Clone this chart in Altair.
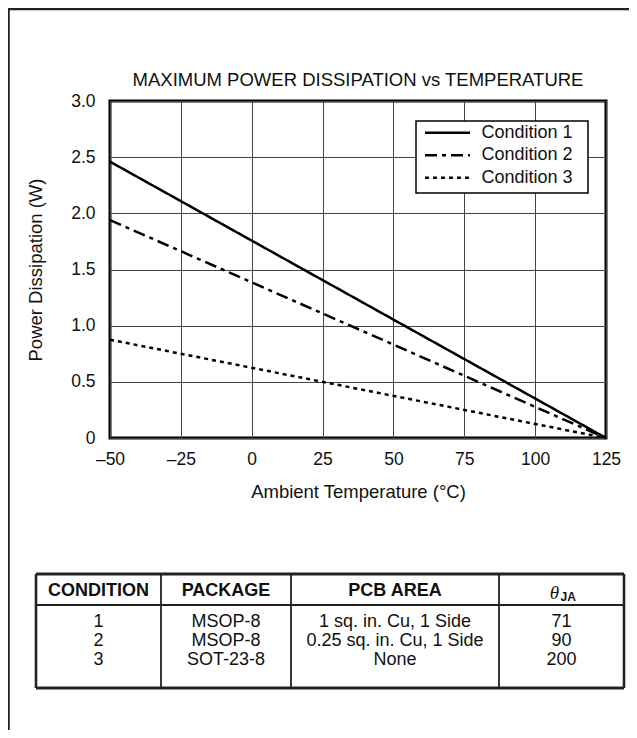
import altair as alt
import pandas as pd

# ---------------- data ----------------
temps = [-50, 125]
conditions = ["Condition 1", "Condition 2", "Condition 3"]
power_c1 = [2.46, 0.0]
power_c2 = [1.94, 0.0]
power_c3 = [0.875, 0.0]

x_ticks = [-50, -25, 0, 25, 50, 75, 100, 125]
y_ticks = [0, 0.5, 1.0, 1.5, 2.0, 2.5, 3.0]

chart_title = "MAXIMUM POWER DISSIPATION vs TEMPERATURE"
x_title = "Ambient Temperature (°C)"
y_title = "Power Dissipation (W)"

tbl_headers = ["CONDITION", "PACKAGE", "PCB AREA"]
tbl_condition = ["1", "2", "3"]
tbl_package = ["MSOP-8", "MSOP-8", "SOT-23-8"]
tbl_area = ["1 sq. in. Cu, 1 Side", "0.25 sq. in. Cu, 1 Side", "None"]
tbl_theta = ["71", "90", "200"]
theta_symbol = "θ"
theta_sub = "JA"

# ---------------- layout ----------------
W, H = 496, 337
FONT = "Liberation Sans"
INK = "#111111"

# legend geometry (plot pixel coords)
leg_box = (306, 478, 20, 92)
leg_sym = (315, 360)
leg_txt_x = 371.5
leg_rows = [31.7, 54.2, 76.7]

# table geometry (plot pixel coords)
col_edges = [-74, 51, 181, 389, 514]
tbl_top, head_bot, tbl_bot = 473, 504, 587
head_y = 489.5
body_y = [520.5, 539.5, 558.5]

# ---------------- frames ----------------
series = {"Condition 1": power_c1, "Condition 2": power_c2, "Condition 3": power_c3}
rows = []
for c in conditions:
    for t, p in zip(temps, series[c]):
        rows.append({"condition": c, "temp": t, "power": p})
lines_df = pd.DataFrame(rows)

dash_scale = alt.Scale(domain=conditions, range=[[1, 0], [12, 5, 4, 5], [4, 4]])

x_axis = alt.Axis(
    values=x_ticks, title=x_title, grid=True, gridColor="#444", gridWidth=1,
    ticks=False, domain=False, labelFontSize=17.5, labelColor=INK, labelPadding=12,
    labelFlush=False, labelOverlap=False,
    labelExpr="datum.value < 0 ? '\u2013' + abs(datum.value) : datum.label",
    titleFontSize=18.5, titleFontWeight="normal", titleColor=INK, titlePadding=15,
)
y_axis = alt.Axis(
    values=y_ticks, title=y_title, grid=True, gridColor="#444", gridWidth=1,
    ticks=False, domain=False, labelFontSize=17.5, labelColor=INK, labelPadding=15,
    labelFlush=False, labelOverlap=False,
    labelExpr="datum.value == 0 ? '0' : format(datum.value, '.1f')",
    titleFontSize=18.5, titleFontWeight="normal", titleColor=INK, titlePadding=25,
)

lines = alt.Chart(lines_df).mark_line(strokeWidth=2.5, color="black", clip=False).encode(
    x=alt.X("temp:Q", scale=alt.Scale(domain=[-50, 125], nice=False, zero=False), axis=x_axis),
    y=alt.Y("power:Q", scale=alt.Scale(domain=[0, 3], nice=False), axis=y_axis),
    strokeDash=alt.StrokeDash("condition:N", scale=dash_scale, legend=None),
)

one = pd.DataFrame({"k": [0]})

title_mark = alt.Chart(one).mark_text(
    text=chart_title, font=FONT, fontSize=18.5, color=INK, align="center", baseline="alphabetic"
).encode(x=alt.value(W / 2), y=alt.value(-15))

frame_left = alt.Chart(one).mark_rule(color="#222", strokeWidth=2.5).encode(
    x=alt.value(-101.5), y=alt.value(-92), y2=alt.value(H + 320)
)
frame_top = alt.Chart(one).mark_rule(color="#222", strokeWidth=2.5).encode(
    x=alt.value(-102.5), x2=alt.value(W + 60), y=alt.value(-92)
)

# legend
leg_df = pd.DataFrame({
    "condition": conditions,
    "x1": [leg_sym[0]] * 3, "x2": [leg_sym[1]] * 3,
    "tx": [leg_txt_x] * 3, "y": leg_rows,
})
leg_rect = alt.Chart(one).mark_rect(fill="white", stroke="black", strokeWidth=1.5).encode(
    x=alt.value(leg_box[0]), x2=alt.value(leg_box[1]), y=alt.value(leg_box[2]), y2=alt.value(leg_box[3])
)
leg_lines = alt.Chart(leg_df).mark_rule(strokeWidth=2.5, color="black").encode(
    x=alt.X("x1:Q", scale=None, axis=None), x2="x2:Q",
    y=alt.Y("y:Q", scale=None, axis=None),
    strokeDash=alt.StrokeDash("condition:N", scale=dash_scale, legend=None),
)
leg_text = alt.Chart(leg_df).mark_text(
    font=FONT, fontSize=18, color=INK, align="left", baseline="middle"
).encode(
    x=alt.X("tx:Q", scale=None, axis=None), y=alt.Y("y:Q", scale=None, axis=None), text="condition:N"
)

# table lines
tl = []
for y, w in [(tbl_top, 2.8), (head_bot, 2.2), (tbl_bot, 2.8)]:
    tl.append({"x1": col_edges[0], "x2": col_edges[-1], "y1": y, "y2": y, "w": w})
for i, x in enumerate(col_edges):
    w = 2.6 if i in (0, len(col_edges) - 1) else 1.8
    tl.append({"x1": x, "x2": x, "y1": tbl_top, "y2": tbl_bot, "w": w})
tl_df = pd.DataFrame(tl)
tbl_lines = alt.Chart(tl_df).mark_rule(color="#222").encode(
    x=alt.X("x1:Q", scale=None, axis=None), x2="x2:Q",
    y=alt.Y("y1:Q", scale=None, axis=None), y2="y2:Q",
    strokeWidth=alt.StrokeWidth("w:Q", scale=None, legend=None),
)

centers = [(col_edges[i] + col_edges[i + 1]) / 2 for i in range(len(col_edges) - 1)]
head_df = pd.DataFrame({"t": tbl_headers, "x": centers[:3], "y": [head_y] * 3})
tbl_head = alt.Chart(head_df).mark_text(
    font=FONT, fontSize=18, fontWeight="bold", color=INK, align="center", baseline="middle"
).encode(x=alt.X("x:Q", scale=None, axis=None), y=alt.Y("y:Q", scale=None, axis=None), text="t:N")

theta_df = pd.DataFrame({"t": [theta_symbol], "x": [centers[3] - 7], "y": [head_y + 2]})
theta_mark = alt.Chart(theta_df).mark_text(
    font="Liberation Serif", fontSize=19, fontStyle="italic", color=INK, align="center", baseline="middle"
).encode(x=alt.X("x:Q", scale=None, axis=None), y=alt.Y("y:Q", scale=None, axis=None), text="t:N")
sub_df = pd.DataFrame({"t": [theta_sub], "x": [centers[3] - 1], "y": [head_y + 6]})
sub_mark = alt.Chart(sub_df).mark_text(
    font=FONT, fontSize=12, fontWeight="bold", color=INK, align="left", baseline="middle"
).encode(x=alt.X("x:Q", scale=None, axis=None), y=alt.Y("y:Q", scale=None, axis=None), text="t:N")

body = []
for r in range(3):
    for c, col in enumerate([tbl_condition, tbl_package, tbl_area, tbl_theta]):
        body.append({"t": col[r], "x": centers[c], "y": body_y[r]})
body_df = pd.DataFrame(body)
tbl_body = alt.Chart(body_df).mark_text(
    font=FONT, fontSize=18, color=INK, align="center", baseline="middle"
).encode(x=alt.X("x:Q", scale=None, axis=None), y=alt.Y("y:Q", scale=None, axis=None), text="t:N")

chart = alt.layer(
    lines, leg_rect, leg_lines, leg_text, title_mark, frame_left, frame_top,
    tbl_lines, tbl_head, theta_mark, sub_mark, tbl_body,
).properties(
    width=W, height=H,
    autosize=alt.AutoSizeParams(type="none"),
    padding={"left": 102, "top": 93, "right": 23, "bottom": 292},
).configure(
    font=FONT,
).configure_view(
    stroke="black", strokeWidth=3,
)

chart.save("out.html", embed_options={"renderer": "svg", "actions": False})
